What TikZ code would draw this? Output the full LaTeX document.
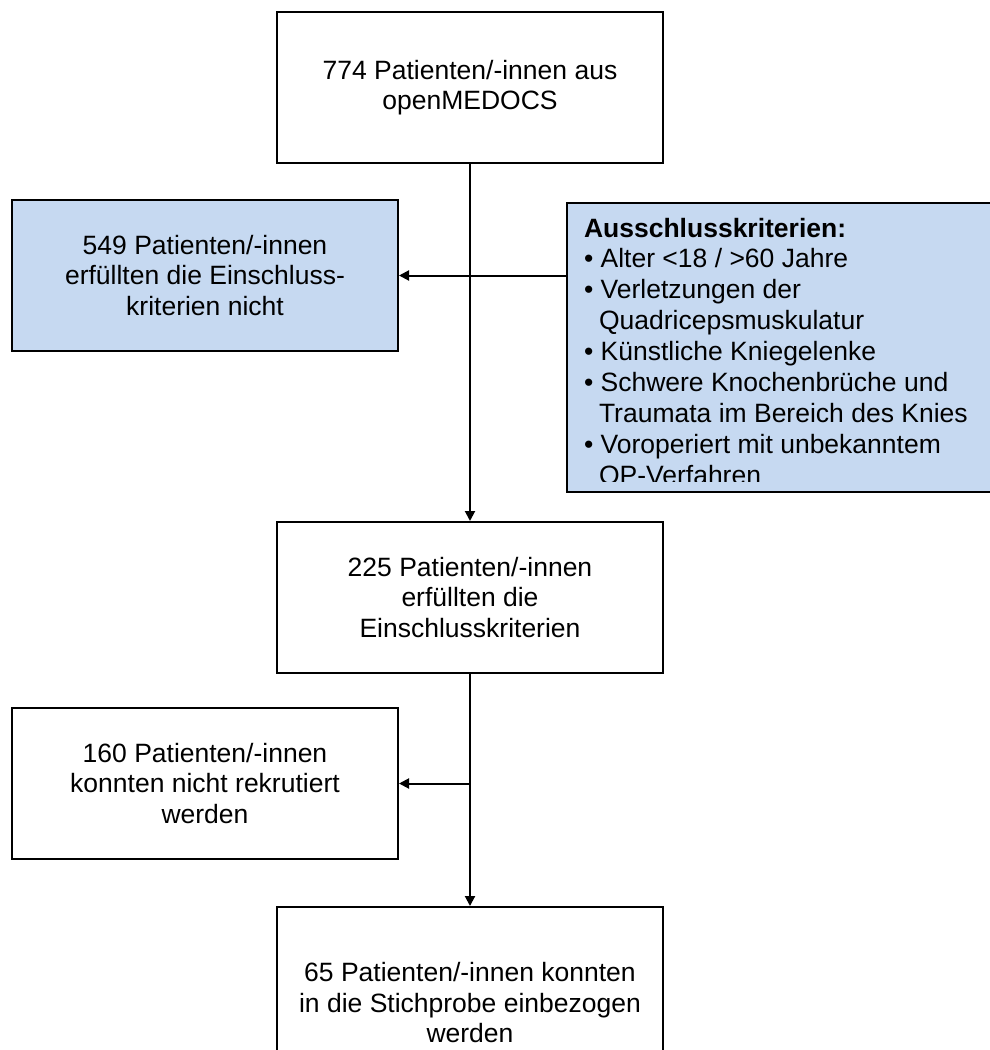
\documentclass[tikz,border=0pt]{standalone}
\usepackage{fontspec}
\setmainfont{Liberation Sans}
\usetikzlibrary{positioning,arrows.meta}
\definecolor{critblue}{RGB}{198,217,241}

\begin{document}
\begin{tikzpicture}[x=1pt, y=-1pt, line width=2pt,
                    main node/.style={rectangle,draw,minimum width=386pt,minimum height=151pt,
                      align=center,inner sep=0pt,font=\fontsize{26.5}{30.5}\selectfont},
                    blue node/.style={main node,fill=critblue},
                    arr/.style={-{Triangle[length=10pt,width=10pt]}}]

  \path[use as bounding box, clip] (0,0) rectangle (990,1050);

   \node[main node] (start) at (470,87.5) {774 Patienten/-innen aus\\openMEDOCS};
  \node[main node] (incl) [below=357pt of start] {225 Patienten/-innen\\erfüllten die\\Einschlusskriterien};
    \node[main node,minimum height=192pt] (final) [below=232pt of incl] {65 Patienten/-innen konnten\\in die Stichprobe einbezogen\\werden};

  \node[blue node] (excl) at (205,275.5) {549 Patienten/-innen\\erfüllten die Einschluss-\\kriterien nicht};
  \node[main node] (norec) at (205,783.5) {160 Patienten/-innen\\konnten nicht rekrutiert\\werden};

  % criteria box, runs past the right edge
  \node[blue node,minimum width=440pt,minimum height=289pt] (crit) at (787,347.5) {};
  \begin{scope}
    \clip (567,203) rectangle (990,481);
    \node[anchor=base west,inner sep=0pt,font=\fontsize{26.5}{30.9}\selectfont] (critlist) at (583,237)
      {\parbox[t]{400pt}{\raggedright
        \textbf{Ausschlusskriterien:}\\
        • Alter <18 / >60 Jahre\\
        • Verletzungen der\\
        \hspace*{15pt}Quadricepsmuskulatur\\
        • Künstliche Kniegelenke\\
        • Schwere Knochenbrüche und\\
        \hspace*{15pt}Traumata im Bereich des Knies\\
        • Voroperiert mit unbekanntem\\
        \hspace*{15pt}OP-Verfahren}};
  \end{scope}

  \draw[arr] (start) -- (incl);
  \draw[arr] (incl) -- (final);
  \draw[arr] (crit.west |- excl.east) -- (excl.east);
  \draw[arr] (incl.south |- norec.east) -- (norec.east);

\end{tikzpicture}
\end{document}
